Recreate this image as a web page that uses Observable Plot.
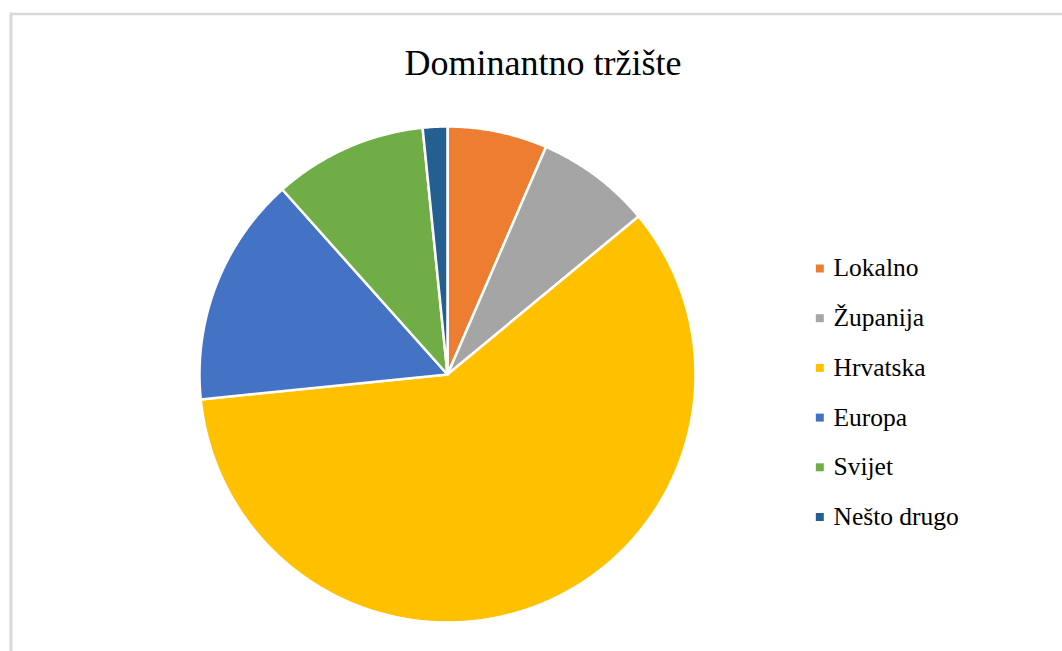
<!DOCTYPE html>
<html>
<head>
<meta charset="utf-8">
<script src="https://cdn.jsdelivr.net/npm/d3@7"></script>
<script src="https://cdn.jsdelivr.net/npm/@observablehq/plot@0.6"></script>
<style>
  html, body { margin: 0; padding: 0; background: #fff; }
  #chart svg { display: block; }
</style>
</head>
<body>
<div id="chart"></div>
<script>
// Data (percent shares)
const categories = ["Lokalno", "Županija", "Hrvatska", "Europa", "Svijet", "Nešto drugo"];
const shares = [6.5, 7.5, 59.4, 15.0, 10.0, 1.6];
const colors = ["#ED7D31", "#A5A5A5", "#FFC000", "#4472C4", "#70AD47", "#255E91"];
const title = "Dominantno tržište";

// Layout
const W = 1062, H = 651;
const cx = 447, cy = 374, R = 248;
const serif = "'Liberation Serif', 'Times New Roman', serif";

const table = categories.map((name, i) => ({name, value: shares[i]}));
const arcs = d3.pie().sort(null).value(d => d.value).startAngle(0).endAngle(2 * Math.PI)(table);

// slice outlines: center + sampled arc
const pts = [];
for (const a of arcs) {
  pts.push({name: a.data.name, x: cx, y: cy});
  const n = Math.max(4, Math.ceil((a.endAngle - a.startAngle) * 120));
  for (let k = 0; k <= n; k++) {
    const t = a.startAngle + (a.endAngle - a.startAngle) * k / n;
    pts.push({name: a.data.name, x: cx + R * Math.sin(t), y: cy - R * Math.cos(t)});
  }
}

const legendY0 = 267.8, legendStep = 49.7;

const plot = Plot.plot({
  width: W,
  height: H,
  margin: 0,
  x: {domain: [0, W], range: [0, W], axis: null},
  y: {domain: [0, H], range: [0, H], axis: null},
  color: {domain: categories, range: colors},
  marks: [
    // chart border
    Plot.ruleY([13.5], {x1: 10, x2: W, stroke: "#d9d9d9", strokeWidth: 2.5}),
    Plot.ruleX([10.5], {y1: 12.5, y2: H, stroke: "#d9d9d9", strokeWidth: 3}),
    // pie slices
    Plot.line(pts, {x: "x", y: "y", z: "name", fill: "name", stroke: "white", strokeWidth: 2.5, curve: "linear-closed", strokeLinejoin: "round"}),
    // title
    Plot.text([title], {x: () => 542.5, y: () => 62.5, text: d => d, fontSize: 36, fontFamily: serif, fill: "#000", textAnchor: "middle"}),
    // legend
    Plot.dot(categories, {x: () => 819.3, y: (d, i) => 268 + legendStep * i, symbol: "square", r: 4.5, fill: d => d, stroke: null}),
    Plot.text(categories, {x: () => 833, y: (d, i) => legendY0 + legendStep * i, text: d => d, textAnchor: "start", fontSize: 25.5, fontFamily: serif, fill: "#000"})
  ]
});
document.getElementById("chart").appendChild(plot);
</script>
</body>
</html>
